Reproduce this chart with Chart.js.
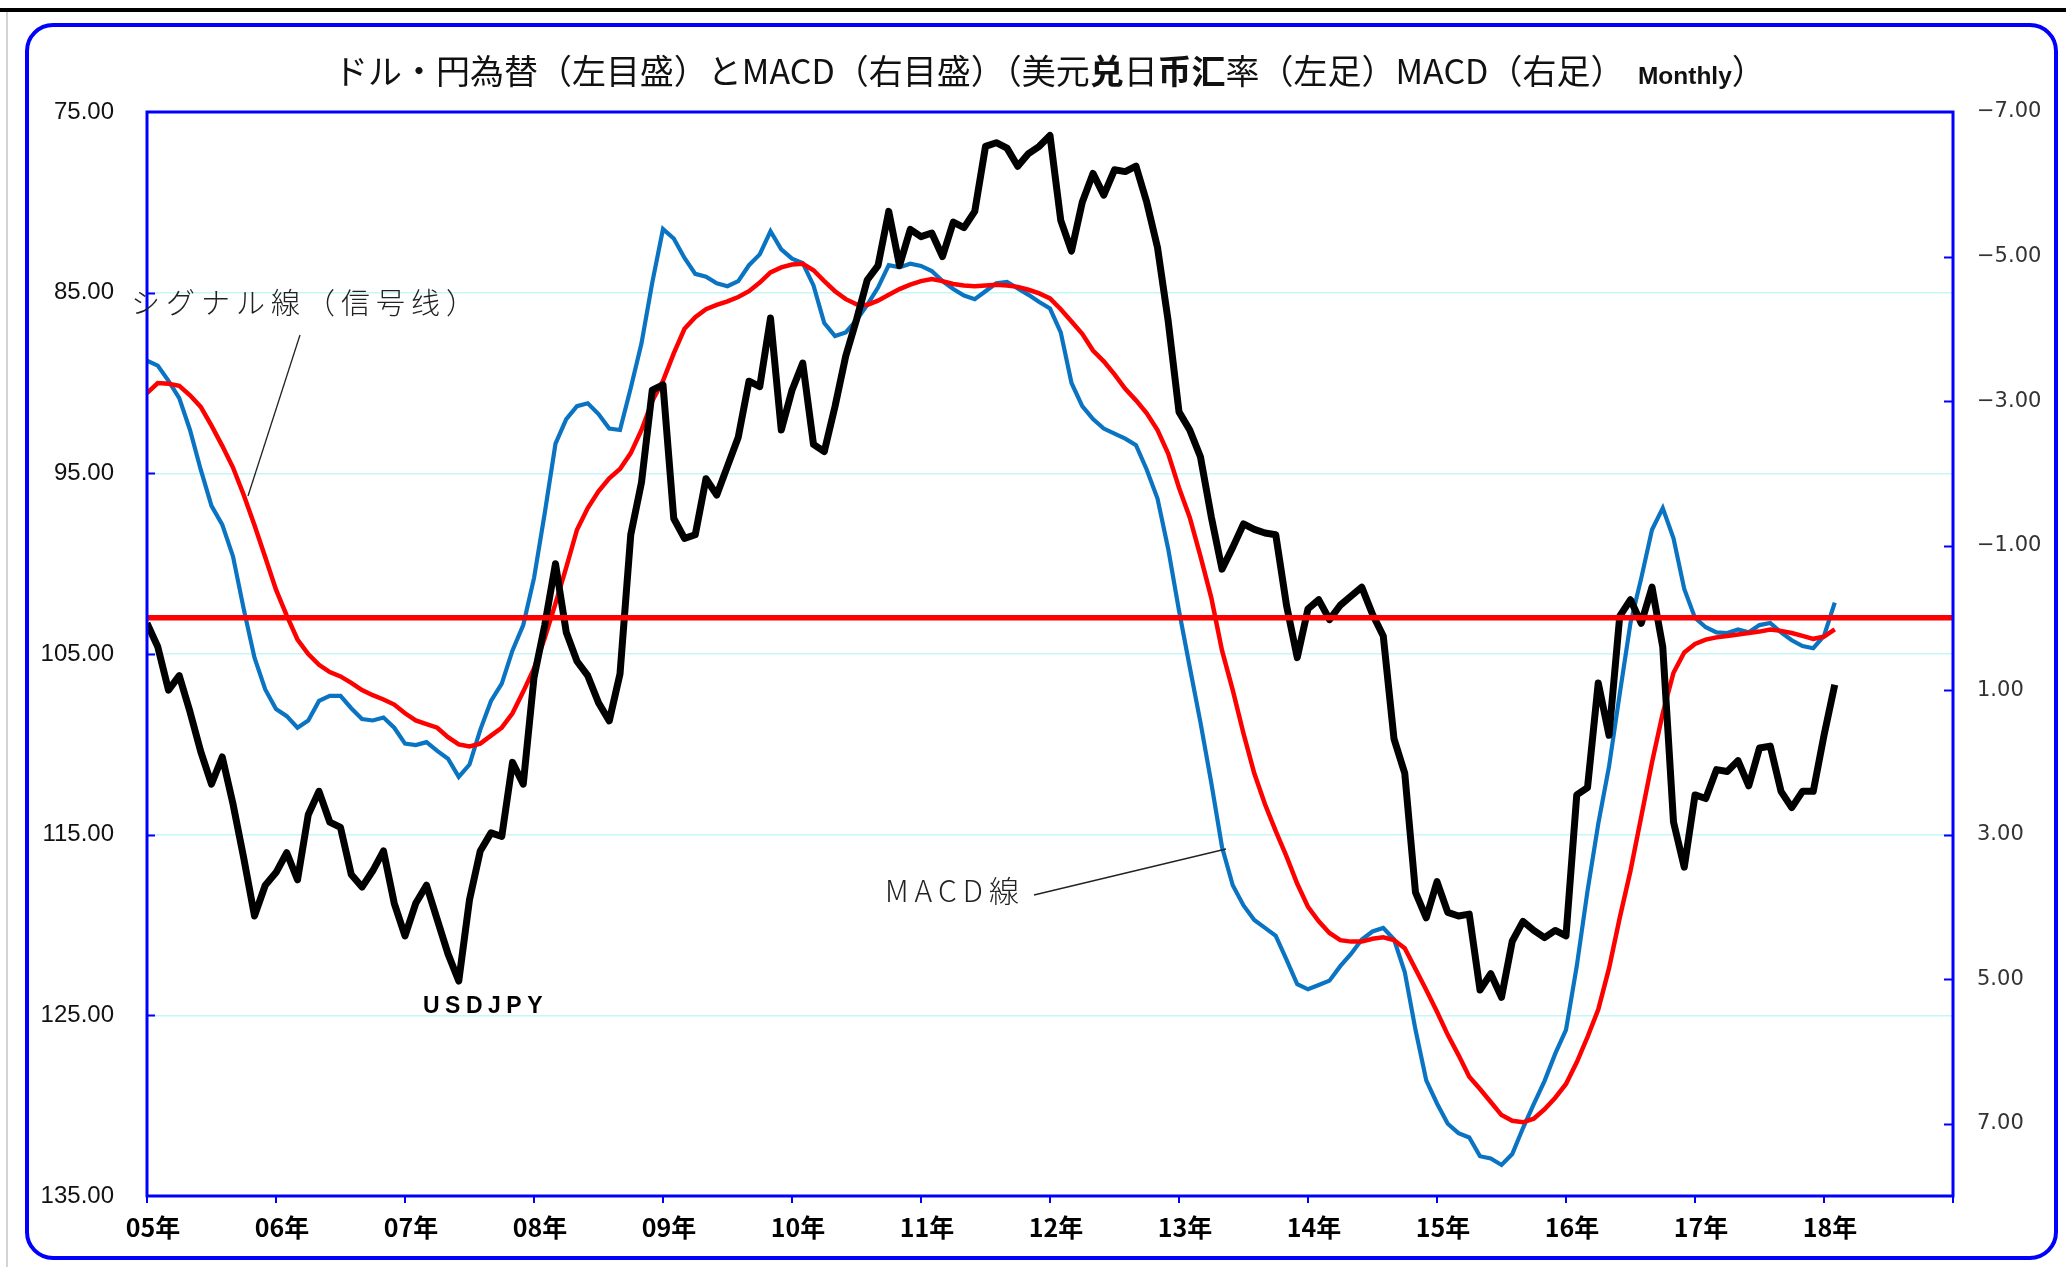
<!DOCTYPE html>
<html><head><meta charset="utf-8">
<script src="https://cdn.jsdelivr.net/npm/chart.js@4.4.0/dist/chart.umd.min.js"></script>
<style>html,body{margin:0;padding:0;background:#fff;}canvas{display:block;}</style>
</head><body>
<canvas id="c" width="2066" height="1267"></canvas>
<script>
// ---- data (monthly, Jan 2005 .. Feb 2018) ----
const usdjpy = [
 103.3,104.6,107.0,106.2,108.2,110.4,112.2,110.7,113.3,116.3,119.5,117.8,
 117.1,116.0,117.5,113.9,112.6,114.3,114.6,117.2,117.9,117.0,115.9,118.8,
 120.6,118.8,117.8,119.7,121.6,123.1,118.6,115.9,114.9,115.1,111.0,112.2,
 106.3,103.4,100.0,103.8,105.4,106.2,107.7,108.7,106.1,98.4,95.5,90.4,
 90.1,97.5,98.6,98.4,95.3,96.2,94.6,93.0,89.9,90.2,86.4,92.6,
 90.4,88.9,93.4,93.8,91.3,88.5,86.5,84.3,83.5,80.5,83.5,81.5,
 81.9,81.7,83.0,81.1,81.4,80.5,76.9,76.7,77.0,78.0,77.3,76.9,
 76.3,81.0,82.7,80.0,78.4,79.6,78.2,78.3,78.0,80.0,82.5,86.6,
 91.6,92.6,94.1,97.4,100.3,99.1,97.8,98.1,98.3,98.4,102.3,105.2,
 102.5,102.0,103.1,102.3,101.8,101.3,102.8,104.0,109.7,111.6,118.2,119.6,
 117.6,119.3,119.5,119.4,123.6,122.7,124.0,120.9,119.8,120.3,120.7,120.3,
 120.6,112.8,112.4,106.6,109.5,102.9,102.0,103.3,101.3,104.6,114.3,116.8,
 112.8,113.0,111.4,111.5,110.9,112.3,110.2,110.1,112.6,113.5,112.6,112.6,
 109.5,106.7
];
const macd = [
 -3.56,-3.49,-3.28,-3.04,-2.60,-2.05,-1.55,-1.29,-0.85,-0.12,0.55,0.99,
 1.26,1.36,1.52,1.42,1.15,1.08,1.08,1.25,1.40,1.42,1.38,1.52,
 1.74,1.76,1.72,1.84,1.95,2.20,2.03,1.55,1.15,0.91,0.45,0.10,
 -0.55,-1.45,-2.41,-2.75,-2.93,-2.97,-2.82,-2.62,-2.60,-3.18,-3.80,-4.64,
 -5.38,-5.25,-4.98,-4.76,-4.72,-4.63,-4.59,-4.66,-4.88,-5.03,-5.35,-5.10,
 -4.97,-4.91,-4.60,-4.08,-3.90,-3.95,-4.12,-4.33,-4.57,-4.88,-4.85,-4.90,
 -4.87,-4.80,-4.66,-4.55,-4.46,-4.41,-4.52,-4.63,-4.65,-4.56,-4.47,-4.37,
 -4.28,-3.95,-3.25,-2.93,-2.75,-2.62,-2.55,-2.48,-2.39,-2.05,-1.65,-0.95,
 -0.10,0.68,1.45,2.28,3.17,3.70,3.98,4.18,4.29,4.40,4.73,5.07,
 5.14,5.08,5.02,4.82,4.65,4.45,4.34,4.29,4.45,4.90,5.70,6.40,
 6.72,7.00,7.13,7.19,7.45,7.48,7.57,7.42,7.06,6.73,6.41,6.03,
 5.70,4.82,3.78,2.85,2.06,1.05,0.07,-0.55,-1.22,-1.52,-1.10,-0.40,
 0.00,0.13,0.20,0.21,0.16,0.20,0.10,0.07,0.20,0.31,0.39,0.42,
 0.25,-0.21
];
const signal = [
 -3.11,-3.25,-3.24,-3.21,-3.08,-2.92,-2.66,-2.38,-2.08,-1.70,-1.28,-0.84,
 -0.39,-0.03,0.30,0.50,0.65,0.75,0.81,0.90,1.00,1.07,1.13,1.20,
 1.32,1.42,1.47,1.52,1.65,1.75,1.78,1.74,1.63,1.52,1.32,1.02,
 0.70,0.28,-0.20,-0.70,-1.22,-1.52,-1.75,-1.93,-2.06,-2.28,-2.60,-3.00,
 -3.28,-3.66,-4.00,-4.16,-4.27,-4.33,-4.38,-4.44,-4.52,-4.64,-4.78,-4.85,
 -4.89,-4.90,-4.81,-4.66,-4.52,-4.41,-4.34,-4.33,-4.39,-4.47,-4.55,-4.61,
 -4.66,-4.69,-4.66,-4.62,-4.60,-4.59,-4.60,-4.61,-4.60,-4.58,-4.54,-4.49,
 -4.42,-4.27,-4.10,-3.93,-3.70,-3.55,-3.37,-3.17,-3.01,-2.83,-2.60,-2.27,
 -1.80,-1.39,-0.85,-0.28,0.45,1.00,1.60,2.15,2.58,2.95,3.30,3.68,
 4.00,4.20,4.36,4.46,4.48,4.48,4.44,4.42,4.46,4.57,4.86,5.15,
 5.45,5.77,6.05,6.35,6.52,6.70,6.88,6.96,6.98,6.93,6.80,6.64,
 6.45,6.15,5.80,5.42,4.85,4.15,3.50,2.75,2.00,1.32,0.76,0.48,
 0.36,0.30,0.27,0.25,0.23,0.21,0.19,0.16,0.18,0.21,0.25,0.29,
 0.26,0.16
];
const zeroLineX = [0, 168];
const zeroLineY = [0, 0];
const yearTicks = [0,12,24,36,48,60,72,84,96,108,120,132,144,156,168];
const yearLabels = ['05年','06年','07年','08年','09年','10年','11年','12年','13年','14年','15年','16年','17年','18年',''];
const leftTicks = [75,85,95,105,115,125,135];
const rightTicks = [-7,-5,-3,-1,1,3,5,7];

const W = 2066, H = 1267;
const BLUE = '#0000ff';

function pts(arr){ return arr.map((v,i)=>({x:i, y:v})); }

const decor = {
  id:'decor',
  beforeDraw(chart){
    const c = chart.ctx; c.save();
    c.fillStyle='#fff'; c.fillRect(0,0,W,H);
    c.fillStyle='#000'; c.fillRect(0,8,W,4);
    c.fillStyle='#d4d4d4'; c.fillRect(6,12,2,H-12);
    c.strokeStyle=BLUE; c.lineWidth=4;
    c.beginPath(); c.roundRect(27,25,2029,1233,26); c.stroke();
    c.restore();
  },
  afterDraw(chart){
    const c = chart.ctx; const a = chart.chartArea;
    const yL = chart.scales.yL, yR = chart.scales.yR;
    c.save();
    // plot border
    c.strokeStyle=BLUE; c.lineWidth=3;
    c.strokeRect(a.left, a.top, a.right-a.left, a.bottom-a.top);
    // inward ticks
    c.lineWidth=2;
    leftTicks.slice(1,-1).forEach(v=>{ const y=Math.round(yL.getPixelForValue(v))+0.5; c.beginPath(); c.moveTo(a.left,y); c.lineTo(a.left+8,y); c.stroke(); });
    rightTicks.slice(1).forEach(v=>{ const y=Math.round(yR.getPixelForValue(v))+0.5; c.beginPath(); c.moveTo(a.right-9,y); c.lineTo(a.right,y); c.stroke(); });
    // title
    const segs = [
      {t:'ドル・円為替（左目盛）とMACD（右目盛）（美元', w:400, fam:'"Noto Sans CJK JP"', k:1},
      {t:'兑', w:700, fam:'"Noto Sans CJK SC"', k:1},
      {t:'日', w:400, fam:'"Noto Sans CJK JP"', k:1},
      {t:'币汇', w:700, fam:'"Noto Sans CJK SC"', k:1},
      {t:'率（左足）MACD（右足）', w:400, fam:'"Noto Sans CJK JP"', k:1},
      {t:'  Monthly', w:700, fam:'"Liberation Sans"', k:0.72},
      {t:'）', w:400, fam:'"Noto Sans CJK JP"', k:1}
    ];
    let base = 32;
    const measure = (s)=>segs.reduce((acc,g)=>{ c.font = g.w+' '+(s*g.k)+'px '+g.fam; return acc + c.measureText(g.t).width; },0);
    const tw = measure(base);
    const size = base * 1432 / tw;
    let x = 1050 - 1432/2;
    c.fillStyle='#111'; c.textBaseline='alphabetic'; c.textAlign='left';
    segs.forEach(g=>{ c.font = g.w+' '+(size*g.k)+'px '+g.fam; c.fillText(g.t, x, 84); x += c.measureText(g.t).width; });
    // annotations
    c.fillStyle='#222'; c.textBaseline='middle';
    c.font='300 29px "Noto Sans CJK JP"'; c.letterSpacing='6px';
    c.fillText('シグナル線（信号线）', 131, 303);
    c.font='300 30px "Noto Sans CJK JP"'; c.letterSpacing='6px';
    c.fillText('MACD線', 885, 891);
    c.fillStyle='#000'; c.font='bold 23px "Liberation Sans"'; c.letterSpacing='5.5px';
    c.fillText('USDJPY', 423, 1007);
    c.letterSpacing='0px';
    c.strokeStyle='#222'; c.lineWidth=1.3;
    c.beginPath(); c.moveTo(300,335); c.lineTo(248,496); c.stroke();
    c.beginPath(); c.moveTo(1034,895); c.lineTo(1226,849); c.stroke();
    c.restore();
  }
};

new Chart(document.getElementById('c'), {
  type:'line',
  data:{ datasets:[
    {label:'zero', data: zeroLineX.map((x,i)=>({x, y:zeroLineY[i]})), yAxisID:'yR', borderColor:'#ff0000', borderWidth:5.5, pointRadius:0, order:0},
    {label:'USDJPY', data: pts(usdjpy), yAxisID:'yL', borderColor:'#000', borderWidth:7, pointRadius:0, order:1, borderJoinStyle:'round', tension:0},
    {label:'Signal', data: pts(signal), yAxisID:'yR', borderColor:'#ff0000', borderWidth:4.5, pointRadius:0, order:2, tension:0},
    {label:'MACD', data: pts(macd), yAxisID:'yR', borderColor:'#0a74c2', borderWidth:4.2, pointRadius:0, order:3, tension:0}
  ]},
  options:{
    responsive:false, animation:false, devicePixelRatio:1,
    layout:{padding:{top:112,left:0,right:0,bottom:0}},
    plugins:{legend:{display:false}, tooltip:{enabled:false}, title:{display:false}},
    scales:{
      x:{type:'linear', min:0, max:168,
        afterBuildTicks:(s)=>{ s.ticks = yearTicks.map(v=>({value:v})); },
        ticks:{callback:(v,i)=>yearLabels[i], autoSkip:false, maxRotation:0, minRotation:0,
          font:{family:'"Noto Sans CJK JP"', size:25, weight:'bold'}, color:'#000', padding:9, labelOffset:6},
        grid:{drawOnChartArea:false, drawTicks:true, tickLength:7, color:BLUE, lineWidth:2},
        border:{display:false},
        afterFit:(s)=>{ s.height = 71; }
      },
      yL:{position:'left', reverse:true, min:75, max:135,
        afterBuildTicks:(s)=>{ s.ticks = leftTicks.map(v=>({value:v})); },
        ticks:{callback:(v)=>Number(v).toFixed(2), font:{family:'"Liberation Sans"', size:24}, color:'#111', padding:33},
        grid:{drawTicks:false, lineWidth:1.5, color:(ctx)=> (ctx.tick && (ctx.tick.value===75||ctx.tick.value===135)) ? 'rgba(0,0,0,0)' : '#c6f6f6'},
        border:{display:false},
        afterFit:(s)=>{ s.width = 147; }
      },
      yR:{position:'right', reverse:true, min:-7, max:8,
        afterBuildTicks:(s)=>{ s.ticks = rightTicks.map(v=>({value:v})); },
        ticks:{callback:(v)=> (v<0 ? '−'+Math.abs(v).toFixed(2) : Number(v).toFixed(2)), font:{family:'"DejaVu Sans"', size:21}, color:'#333', padding:24},
        grid:{display:false, drawTicks:false},
        border:{display:false},
        afterFit:(s)=>{ s.width = 113; }
      }
    }
  },
  plugins:[decor]
});
</script>
</body></html>
